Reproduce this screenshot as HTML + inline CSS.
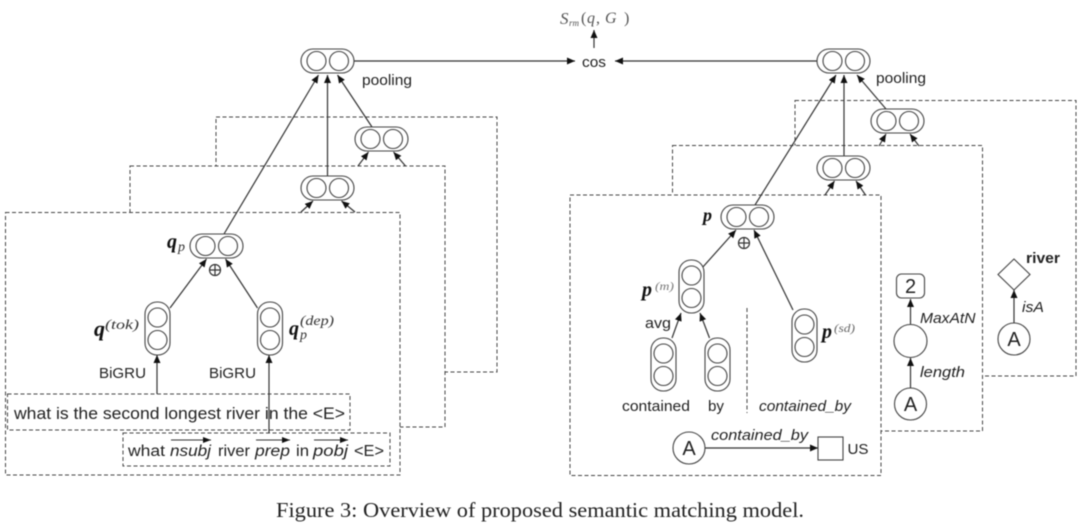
<!DOCTYPE html>
<html><head><meta charset="utf-8">
<style>
html,body{margin:0;padding:0;background:#fff;width:1080px;height:530px;overflow:hidden}
svg{display:block;filter:blur(.5px)}
text{font-family:"Liberation Sans",sans-serif;font-size:14.5px;fill:#222}
.i{font-style:italic}
.m{font-family:"Liberation Serif",serif}
.b{font-family:"Liberation Serif",serif;font-style:italic;font-weight:bold;font-size:20px;fill:#111}
.s{font-family:"Liberation Serif",serif;font-style:italic;font-size:13px;fill:#333}
.d{fill:#fff;stroke:#444;stroke-width:1;stroke-dasharray:4 2.5}
.dn{fill:none;stroke:#444;stroke-width:1;stroke-dasharray:4 2.5}
.l{stroke:#333;stroke-width:1.2;fill:none}
.a{stroke:#333;stroke-width:1.2;fill:none;marker-end:url(#ah)}
.p rect,.p circle,.c{fill:#fff;stroke:#444;stroke-width:1.1}
</style></head><body>
<svg width="1080" height="530" viewBox="0 0 1080 530" xmlns="http://www.w3.org/2000/svg">
<defs>
<marker id="ah" markerUnits="userSpaceOnUse" markerWidth="9" markerHeight="7" refX="8" refY="3.5" orient="auto"><path d="M0 0L8 3.5L0 7z" fill="#111"/></marker>
<marker id="as" markerUnits="userSpaceOnUse" markerWidth="8" markerHeight="6" refX="8" refY="3" orient="auto"><path d="M0 0L8 3L0 6z" fill="#111"/></marker>
<g id="h" class="p"><rect x="0" y="0" width="53" height="24" rx="12"/><circle cx="15.5" cy="12" r="9.5"/><circle cx="38" cy="12" r="9.5"/></g>
<g id="v" class="p"><rect x="0" y="0" width="25" height="53" rx="12"/><circle cx="12.5" cy="15.5" r="9.5"/><circle cx="12.5" cy="38" r="9.5"/></g>
</defs>

<!-- left stack -->
<rect class="d" x="216" y="117" width="281" height="255"/>
<rect class="d" x="130" y="166" width="315" height="261"/>
<rect class="d" x="5.5" y="212.5" width="394.5" height="262.5"/>
<rect class="d" x="7.5" y="394" width="342.5" height="36"/>
<rect class="d" x="123" y="433" width="267" height="33"/>

<!-- right stack -->
<rect class="d" x="795" y="100.5" width="281" height="275.5"/>
<rect class="d" x="672.5" y="145.5" width="310" height="285.5"/>
<rect class="d" x="570" y="195" width="311" height="280.5"/>
<line class="dn" x1="747" y1="308" x2="747" y2="413"/>

<!-- left connectors -->
<line class="a" x1="224" y1="234" x2="318.5" y2="75"/>
<line class="a" x1="327.5" y1="176" x2="327.5" y2="75"/>
<line class="a" x1="372" y1="127" x2="337.5" y2="75"/>
<line class="a" x1="358" y1="166" x2="368.5" y2="152"/>
<line class="a" x1="405.5" y1="166" x2="393.5" y2="152"/>
<line class="a" x1="301" y1="212" x2="313" y2="201"/>
<line class="a" x1="355" y1="212" x2="341.5" y2="201"/>
<line class="a" x1="170" y1="308" x2="206.5" y2="259"/>
<line class="a" x1="257.5" y1="308" x2="225.5" y2="259"/>
<line class="a" x1="157" y1="394" x2="157" y2="355"/>
<line class="a" x1="269" y1="433" x2="269" y2="355"/>
<line class="a" x1="354" y1="61" x2="575" y2="61"/>

<!-- right connectors -->
<line class="a" x1="817" y1="61" x2="615" y2="61"/>
<line class="a" x1="594" y1="48" x2="594" y2="30"/>
<line class="a" x1="755" y1="205" x2="836" y2="75"/>
<line class="a" x1="844" y1="156" x2="844" y2="75"/>
<line class="a" x1="886" y1="109" x2="857" y2="75"/>
<line class="a" x1="879" y1="146" x2="886" y2="134"/>
<line class="a" x1="919" y1="146" x2="910" y2="134"/>
<line class="a" x1="825" y1="195" x2="834.5" y2="181"/>
<line class="a" x1="865.5" y1="195" x2="856" y2="181"/>
<line class="a" x1="702" y1="268" x2="736" y2="230"/>
<line class="a" x1="793" y1="310" x2="754" y2="230"/>
<line class="a" x1="672" y1="338" x2="681" y2="313"/>
<line class="a" x1="709.5" y1="338" x2="700" y2="313"/>
<line class="a" x1="705" y1="448" x2="818" y2="448"/>
<line class="a" x1="910.5" y1="324" x2="910.5" y2="299"/>
<line class="a" x1="910.5" y1="388" x2="910.5" y2="358"/>
<line class="a" x1="1014" y1="323" x2="1014" y2="290"/>

<!-- pills -->
<use href="#h" x="301" y="49"/>
<use href="#h" x="355" y="127"/>
<use href="#h" x="301" y="176"/>
<use href="#h" x="190" y="234"/>
<use href="#v" x="145" y="302"/>
<use href="#v" x="257.5" y="302"/>
<use href="#h" x="817" y="49"/>
<use href="#h" x="871" y="109"/>
<use href="#h" x="817" y="156"/>
<use href="#h" x="721" y="205"/>
<use href="#v" x="679" y="260"/>
<use href="#v" x="651" y="338"/>
<use href="#v" x="705" y="338"/>
<use href="#v" x="792" y="309"/>

<!-- plus-circles -->
<g class="l" stroke-width="1"><circle cx="215" cy="270" r="5.5"/><path d="M209.5 270h11M215 264.5v11"/><circle cx="744" cy="243" r="5.5"/><path d="M738.5 243h11M744 237.5v11"/></g>

<!-- nodes -->
<circle class="c" cx="689" cy="448" r="16"/>
<rect class="c" x="818" y="437" width="25" height="23"/>
<rect class="c" x="896.5" y="274" width="28" height="24" rx="5"/>
<circle class="c" cx="910.5" cy="341" r="16.5"/>
<circle class="c" cx="910.5" cy="404" r="16"/>
<path class="c" d="M1014 259L1030 274.5L1014 290L998 274.5z"/>
<circle class="c" cx="1014" cy="339" r="16"/>

<!-- text labels -->
<text x="362" y="85" textLength="50" lengthAdjust="spacingAndGlyphs">pooling</text>
<text x="876" y="83" textLength="50" lengthAdjust="spacingAndGlyphs">pooling</text>
<text x="582" y="67" textLength="24" lengthAdjust="spacingAndGlyphs">cos</text>
<text x="99" y="378" textLength="47" lengthAdjust="spacingAndGlyphs">BiGRU</text>
<text x="209" y="378" textLength="47" lengthAdjust="spacingAndGlyphs">BiGRU</text>
<text x="14" y="419" style="font-size:16.5px" textLength="331" lengthAdjust="spacingAndGlyphs">what is the second longest river in the &lt;E&gt;</text>

<text x="128" y="456" style="font-size:15.5px" textLength="37" lengthAdjust="spacingAndGlyphs">what</text>
<text class="i" x="170" y="456" style="font-size:15.5px" textLength="41" lengthAdjust="spacingAndGlyphs">nsubj</text>
<text x="218" y="456" style="font-size:15.5px" textLength="32" lengthAdjust="spacingAndGlyphs">river</text>
<text class="i" x="255" y="456" style="font-size:15.5px" textLength="35" lengthAdjust="spacingAndGlyphs">prep</text>
<text x="296" y="456" style="font-size:15.5px" textLength="13" lengthAdjust="spacingAndGlyphs">in</text>
<text class="i" x="313" y="456" style="font-size:15.5px" textLength="35" lengthAdjust="spacingAndGlyphs">pobj</text>
<text x="354" y="456" style="font-size:15.5px" textLength="30" lengthAdjust="spacingAndGlyphs">&lt;E&gt;</text>
<line x1="171" y1="440" x2="211" y2="440" stroke="#333" marker-end="url(#as)"/>
<line x1="256" y1="440" x2="290" y2="440" stroke="#333" marker-end="url(#as)"/>
<line x1="314" y1="440" x2="348" y2="440" stroke="#333" marker-end="url(#as)"/>

<text x="645" y="328" textLength="26" lengthAdjust="spacingAndGlyphs">avg</text>
<text x="622" y="411" textLength="68" lengthAdjust="spacingAndGlyphs">contained</text>
<text x="708" y="411" textLength="16" lengthAdjust="spacingAndGlyphs">by</text>
<text class="i" x="759" y="411" textLength="92" lengthAdjust="spacingAndGlyphs">contained_by</text>
<text class="i" x="711" y="440" textLength="97" lengthAdjust="spacingAndGlyphs">contained_by</text>
<text x="847.5" y="454" textLength="21" lengthAdjust="spacingAndGlyphs">US</text>
<text class="i" x="920" y="323" textLength="55.5" lengthAdjust="spacingAndGlyphs">MaxAtN</text>
<text class="i" x="920" y="377" textLength="45" lengthAdjust="spacingAndGlyphs">length</text>
<text class="i" x="1022" y="312" textLength="22" lengthAdjust="spacingAndGlyphs">isA</text>
<text x="1026" y="263" style="font-weight:bold" textLength="34" lengthAdjust="spacingAndGlyphs">river</text>
<text x="689" y="455" text-anchor="middle" style="font-size:20px">A</text>
<text x="910.5" y="411" text-anchor="middle" style="font-size:20px">A</text>
<text x="1014" y="346" text-anchor="middle" style="font-size:20px">A</text>
<text x="910.5" y="293" text-anchor="middle" style="font-size:20px">2</text>

<!-- math -->
<text class="m" x="560" y="24" style="font-style:italic;font-size:17px;fill:#555">S</text>
<text class="m" x="569" y="26" style="font-style:italic;font-size:9px;fill:#555">rm</text>
<text class="m" x="581" y="23" style="font-size:16px;fill:#555">(</text>
<text class="m" x="587" y="23" style="font-style:italic;font-size:16px;fill:#555">q</text>
<text class="m" x="596" y="23" style="font-size:16px;fill:#555">,</text>
<text class="m" x="605" y="23" style="font-style:italic;font-size:16px;fill:#555">G</text>
<text class="m" x="624" y="23" style="font-size:16px;fill:#555">)</text>

<text class="b" x="167" y="248">q</text><text class="s" x="178" y="251" style="font-size:14px">p</text>
<text class="b" x="94" y="336" style="font-size:22px">q</text><text class="s" x="105" y="329" style="font-size:14px" textLength="34" lengthAdjust="spacingAndGlyphs">(tok)</text>
<text class="b" x="289" y="335" style="font-size:20px">q</text><text class="s" x="300" y="339" style="font-size:14px">p</text><text class="s" x="300" y="325" style="font-size:14px" textLength="34" lengthAdjust="spacingAndGlyphs">(dep)</text>
<text class="b" x="703" y="221" style="font-size:18px">p</text>
<text class="b" x="642" y="296" style="font-size:20px">p</text><text class="s" x="655" y="290" style="font-size:12px;fill:#777" textLength="19" lengthAdjust="spacingAndGlyphs">(m)</text>
<text class="b" x="822" y="338" style="font-size:20px">p</text><text class="s" x="834" y="332" style="font-size:12px;fill:#666" textLength="21" lengthAdjust="spacingAndGlyphs">(sd)</text>

<text x="276" y="517" style="font-family:'Liberation Serif',serif;font-size:21px;fill:#222" textLength="528" lengthAdjust="spacingAndGlyphs">Figure 3: Overview of proposed semantic matching model.</text>
</svg>
</body></html>
